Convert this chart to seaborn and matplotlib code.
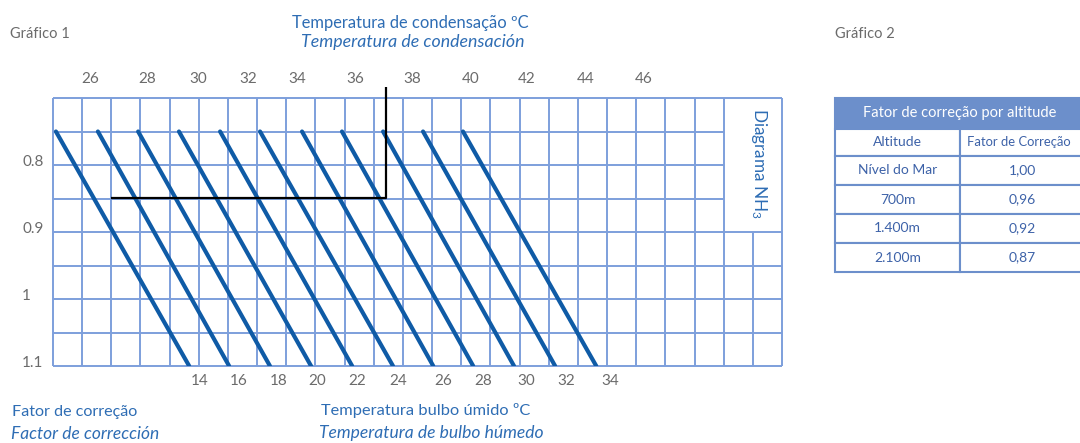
import numpy as np
import pandas as pd
import matplotlib
matplotlib.use("Agg")
import matplotlib.pyplot as plt
import seaborn as sns
from matplotlib.transforms import ScaledTranslation
from matplotlib.patches import Rectangle

# ---------------- data ----------------
wet_bulb_c = [14, 16, 18, 20, 22, 24, 26, 28, 30, 32, 34]
# grid-column coordinates where each wet-bulb line meets factor 0.75 (top) and 1.10 (bottom)
line_top_x = [0.10, 1.54, 2.92, 4.32, 5.73, 7.10, 8.54, 9.91, 11.32, 12.69, 14.06]
line_bottom_x = [4.67, 6.04, 7.44, 8.85, 10.26, 11.66, 13.04, 14.41, 15.81, 17.22, 18.63]
line_top_factor = 0.75
line_bottom_factor = 1.10

cond_temp_labels = [26, 28, 30, 32, 34, 36, 38, 40, 42, 44, 46]
cond_temp_pos = [1.27, 3.22, 4.97, 6.69, 8.37, 10.36, 12.32, 14.34, 16.26, 18.28, 20.27]
wet_bulb_label_pos = [5.04, 6.35, 7.75, 9.06, 10.43, 11.84, 13.38, 14.75, 16.23, 17.60, 19.11]

factor_ticks = [0.8, 0.9, 1.0, 1.1]
factor_tick_labels = ["0.8", "0.9", "1", "1.1"]

# example reading (black line)
example_x = [2.0, 11.42, 11.42]
example_y = [0.849, 0.849, 0.684]

altitudes = ["Nível do Mar", "700m", "1.400m", "2.100m"]
altitude_factors = ["1,00", "0,96", "0,92", "0,87"]

# ---------------- style ----------------
sns.set_theme(style="white")
FONT = ["Lato", "DejaVu Sans"]
plt.rcParams["font.family"] = FONT
plt.rcParams["mathtext.fontset"] = "custom"
plt.rcParams["mathtext.rm"] = "Lato"
plt.rcParams["mathtext.it"] = "Lato:italic"

GRID = "#7d9fdc"
LINE = "#0f5ba6"
BLUE_TXT = "#2e6db4"
GRAY = "#6b6b6b"
HEADER = "#6c8fcb"
CELL_TXT = "#3d62a8"

W, H = 1080, 443
fig = plt.figure(figsize=(W / 100, H / 100), dpi=100)
fig.patch.set_facecolor("white")

def fx(px):
    return px / W

def fy(py):
    return 1 - py / H

ax = fig.add_axes([fx(53), fy(366), fx(782) - fx(53), fy(98) - fy(366)])
ax.set_xlim(0, 25)
ax.set_ylim(1.1, 0.7)
for s in ax.spines.values():
    s.set_visible(False)
ax.set_facecolor("white")

# grid
n_cols = 25
box_col = 23
row_vals = np.round(np.arange(0.70, 1.1001, 0.05), 2)
for c in range(n_cols + 1):
    if c == box_col + 1:
        ax.vlines(c, 0.9, 1.1, color=GRID, lw=1.4, clip_on=False, zorder=1)
    else:
        ax.vlines(c, 0.7, 1.1, color=GRID, lw=1.4, clip_on=False, zorder=1)
for r in row_vals:
    if 0.7 < r < 0.9:
        ax.hlines(r, 0, box_col, color=GRID, lw=1.4, clip_on=False, zorder=1)
    else:
        ax.hlines(r, 0, n_cols, color=GRID, lw=1.4, clip_on=False, zorder=1)

# diagonal wet-bulb lines
rows = []
for wb, xt, xb in zip(wet_bulb_c, line_top_x, line_bottom_x):
    rows.append({"wb": wb, "x": xt, "factor": line_top_factor})
    rows.append({"wb": wb, "x": xb, "factor": line_bottom_factor})
df = pd.DataFrame(rows)
sns.lineplot(data=df, x="x", y="factor", units="wb", estimator=None, sort=False,
             color=LINE, lw=3.0, ax=ax, zorder=3, legend=False)

# example reading
ax.plot(example_x, example_y, color="black", lw=1.6, clip_on=False, zorder=4,
        solid_capstyle="butt")

# NH3 label
ax.text(24.2, 0.797, "Diagrama NH$_3$", rotation=-90, ha="center", va="center",
        color=BLUE_TXT, fontsize=12.3)

# ticks
ax.set_xlabel("")
ax.set_ylabel("")
ax.set_xticks(wet_bulb_label_pos)
ax.set_xticklabels([str(v) for v in wet_bulb_c])
ax.tick_params(axis="x", bottom=True, length=0, pad=5.5, labelsize=11, labelcolor=GRAY)
ax.set_yticks(factor_ticks)
ax.set_yticklabels(factor_tick_labels)
ax.tick_params(axis="y", left=True, length=0, pad=22.3, labelsize=11, labelcolor=GRAY)
for lab in ax.get_yticklabels():
    lab.set_horizontalalignment("left")
    lab.set_transform(lab.get_transform() + ScaledTranslation(0, 3 / 72, fig.dpi_scale_trans))

top = ax.secondary_xaxis("top")
top.set_xticks(cond_temp_pos)
top.set_xticklabels([str(v) for v in cond_temp_labels])
top.tick_params(length=0, pad=8.5, labelsize=11, labelcolor=GRAY)
top.spines["top"].set_visible(False)

# texts
fig.text(fx(10), fy(38), "Gráfico 1", ha="left", va="baseline", color=GRAY, fontsize=10.5)
fig.text(fx(835), fy(38), "Gráfico 2", ha="left", va="baseline", color=GRAY, fontsize=10.5)
fig.text(fx(410.5), fy(28), "Temperatura de condensação ºC", ha="center", va="baseline",
         color=BLUE_TXT, fontsize=11.9)
fig.text(fx(412.5), fy(47), "Temperatura de condensación", ha="center", va="baseline",
         color=BLUE_TXT, fontsize=12.8, style="italic")
fig.text(fx(12), fy(416), "Fator de correção", ha="left", va="baseline",
         color=BLUE_TXT, fontsize=11.6)
fig.text(fx(11), fy(439), "Factor de corrección", ha="left", va="baseline",
         color=BLUE_TXT, fontsize=12.5, style="italic")
fig.text(fx(321), fy(415), "Temperatura bulbo úmido ºC", ha="left", va="baseline",
         color=BLUE_TXT, fontsize=11.8)
fig.text(fx(319), fy(438), "Temperatura de bulbo húmedo", ha="left", va="baseline",
         color=BLUE_TXT, fontsize=12.6, style="italic")

# ---------------- table (Gráfico 2) ----------------
tab = fig.add_axes([fx(835), fy(272), fx(1085) - fx(835), fy(98) - fy(272)])
tab.set_axis_off()
heights = [31] + [27] + [29] * len(altitudes)
edges = np.concatenate([[0], np.cumsum(heights)])
tab.set_xlim(0, 2)
tab.set_ylim(edges[-1], 0)

tab.add_patch(Rectangle((0, 0), 2, edges[1], facecolor=HEADER, edgecolor=HEADER,
                        lw=1.5, clip_on=False))
tab.text(1, (edges[0] + edges[1]) / 2, "Fator de correção por altitude", ha="center",
         va="center", color="white", fontsize=10.5)
header_cells = ["Altitude", "Fator de Correção"]
body = [header_cells] + [[a, f] for a, f in zip(altitudes, altitude_factors)]
for i, (c1, c2) in enumerate(body):
    y0, y1 = edges[i + 1], edges[i + 2]
    for j, txt in enumerate((c1, c2)):
        tab.add_patch(Rectangle((j, y0), 1, y1 - y0, facecolor="white", edgecolor=HEADER,
                                lw=1.5, clip_on=False))
        size = 9.4 if (i == 0 and j == 1) else 10
        tab.text(j + 0.5 - (0.03 if (i == 0 and j == 1) else 0), (y0 + y1) / 2, txt,
                 ha="center", va="center", color=CELL_TXT, fontsize=size)

fig.savefig("out.png", dpi=100)
